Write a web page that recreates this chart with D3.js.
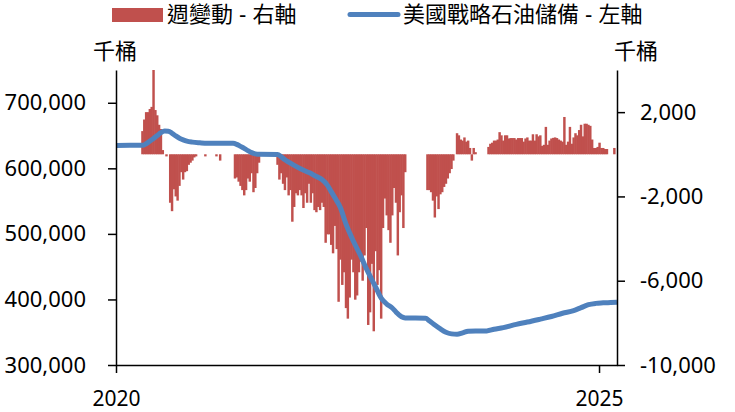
<!DOCTYPE html>
<html>
<head>
<meta charset="utf-8">
<script src="https://cdn.jsdelivr.net/npm/d3@7"></script>
<style>
  html, body { margin: 0; padding: 0; background: #fff; }
  svg { display: block; font-family: "Noto Sans", "Noto Sans CJK TC", sans-serif; }
</style>
</head>
<body>
<svg id="chart" width="735" height="412"></svg>
<script>
// Weekly change in the Strategic Petroleum Reserve (thousand barrels), one value per week
const weekStart = "2020-01-03";
const weeklyChange = [
  // 2020
  0, 0, 0, 0, 0, 0, 0, 0, 0, 0, 0, 0, 0, 0,
  1100, 1650, 2000, 2000, 2150, 2250, 4000, 2100, 1850, 1400, 1200, 200,
  0, -100, 0,
  -2300, -2700, -1660, -2000, -2200, -1500, -850, -1200, -850, -800, -500, -400, -300, -150, -100,
  0, 0, 0, 0, -100, 0, 0, 0, 0, 0, -100, 0, -300, 0, 0, 0, 0, 0, 0, 0,
  // 2021
  -1150, -1100, -1300, -1500, -1700, -1950, -1700, -1150, -1300, -900, -1800, -1600, -900, -400,
  0, 0, 0, 0, 0, 0, 0, 0, 0,
  -500, -1200, -900, -1400, -1700, -1100, -1950, -1700, -3200, -2500, -1850, -1950, -1700, -1950,
  -2550, -1850, -2300, -1400,
  // 2022
  -2300, -1850, -2650, -2750, -2500, -2650, -2300, -2500, -4200, -3800,
  -3800, -4300, -4700, -3400, -4500, -7000, -5000, -6200, -5600, -7300,
  -7800, -6800, -5000, -5600, -6900, -6700, -5600, -5100, -6000, -4800,
  -3500, -8100, -7500, -5200, -8400, -4600, -6200, -5500, -7800, -3500,
  -2100, -2900, -3600, -4200, -2900, -1600, -2300, -4800, -2750, -1950, -3500, -850,
  // 2023
  0, 0, 0, 0, 0, 0, 0, 0, 0, 0, 0,
  -1700, -1700, -1800, -2200, -3000, -2000, -2600, -1900, -1800, -1550, -1400, -1150, -900, -700, -300,
  0,
  1000, 900, 700, 650, 800, 600, 650, 300, -300, 300, 100,
  0, 0, 0, 0, 0, 0,
  350, 500, 550, 650,
  // 2024 - 2025
  650, 700, 1050, 900, 650, 900, 900, 750, 770, 770,
  770, 700, 770, 770, 770, 600, 750, 800, 650, 650,
  950, 650, 950, 850, 900, 400, 450, 1300, 450, 650,
  750, 780, 800, 770, 700, 650, 600, 1770, 450, 600,
  1300, 500, 800, 1000, 900, 1150, 1400, 850, 1450, 1450,
  1400, 1350, 700, 300, 300, 350, 550, 300, 300, 250, 250,
  0, 0, 0, 300
];

// Reserve level (thousand barrels)
const lineDates = [
  "2020-01-03", "2020-04-10", "2020-04-24", "2020-05-08", "2020-05-22", "2020-06-05", "2020-06-19",
  "2020-07-03", "2020-07-17", "2020-07-31", "2020-08-14", "2020-08-28", "2020-09-11", "2020-09-25",
  "2020-10-16", "2020-11-13", "2020-12-11", "2021-03-19", "2021-04-02", "2021-04-16", "2021-04-30",
  "2021-05-14", "2021-05-28", "2021-06-11", "2021-06-25", "2021-09-03", "2021-09-17", "2021-10-01",
  "2021-10-15", "2021-11-05", "2021-12-03", "2021-12-31", "2022-01-28", "2022-02-18", "2022-03-11",
  "2022-03-25", "2022-04-08", "2022-04-29", "2022-05-20", "2022-06-10", "2022-06-24", "2022-07-15",
  "2022-08-05", "2022-08-26", "2022-09-09", "2022-09-30", "2022-10-21", "2022-11-11", "2022-11-25",
  "2022-12-16", "2022-12-30", "2023-03-17", "2023-03-31", "2023-04-21", "2023-05-12", "2023-06-02",
  "2023-06-23", "2023-07-14", "2023-08-04", "2023-08-25", "2023-09-22", "2023-11-03", "2023-12-01",
  "2024-01-05", "2024-02-23", "2024-04-05", "2024-05-24", "2024-07-05", "2024-08-16", "2024-09-27",
  "2024-10-25", "2024-11-22", "2024-12-20", "2025-01-17", "2025-02-14", "2025-03-10"
];
const lineLevels = [
  635000, 635100, 637500, 641500, 645500, 650000, 654500,
  656800, 656600, 653500, 649500, 646000, 643500, 641500,
  640000, 639000, 638300, 638100, 636500, 633500, 630500,
  627000, 624000, 622000, 621300, 621200, 617500, 613000,
  609500, 604500, 598500, 593500, 587500, 583000, 574000,
  564500, 555000, 540000, 515000, 495000, 483000, 466000,
  447000, 430000, 419000, 402000, 393000, 387000, 381000,
  373500, 371800, 371300, 367500, 361000, 355000, 350000,
  347500, 346800, 349000, 351500, 352000, 352000, 354500,
  357000, 362000, 365500, 370000, 374000, 379000, 383000,
  387500, 392000, 394000, 394800, 395500, 395900
];

const leftTicks = [300000, 400000, 500000, 600000, 700000];
const rightTicks = [-10000, -6000, -2000, 2000];
const yearTicks = ["2020-01-01", "2025-01-01"];
const xDomain = ["2020-01-01", "2025-03-10"];
const leftDomain = [300000, 750000];
const rightDomain = [-10000, 4000];
const unitLabel = "千桶";
const legendLabels = ["週變動 - 右軸", "美國戰略石油儲備 - 左軸"];

const barColor = "#C0504D";
const lineColor = "#4F81BD";

const parse = d3.utcParse("%Y-%m-%d");
const svg = d3.select("#chart");

const plot = { left: 116, right: 617, top: 70, bottom: 365 };

const x = d3.scaleUtc().domain(xDomain.map(parse)).range([plot.left, plot.right]);
const yL = d3.scaleLinear().domain(leftDomain).range([plot.bottom, plot.top]);
const yR = d3.scaleLinear().domain(rightDomain).range([plot.bottom, plot.top]);

const locale = d3.formatLocale({ decimal: ".", thousands: ",", grouping: [3], currency: ["", ""], minus: "-" });
const fmt = locale.format(",");

// weekly bars, right axis; each bar spans its week, slightly overlapping its neighbour
const start = parse(weekStart);
const bars = weeklyChange.map((v, i) => ({ date: d3.utcDay.offset(start, 7 * i), value: v }))
  .filter(d => d.value !== 0);
const weekWidth = d => x(d3.utcDay.offset(d.date, 7)) - x(d.date);

svg.append("g")
  .selectAll("rect")
  .data(bars)
  .join("rect")
  .attr("x", d => x(d.date) - weekWidth(d) / 2 - 0.3)
  .attr("width", d => weekWidth(d) + 0.6)
  .attr("y", d => Math.min(yR(d.value), yR(0)))
  .attr("height", d => Math.abs(yR(d.value) - yR(0)))
  .attr("fill", barColor);

// reserve level line, left axis
const levels = lineDates.map((d, i) => ({ date: parse(d), value: lineLevels[i] }));
svg.append("path")
  .datum(levels)
  .attr("fill", "none")
  .attr("stroke", lineColor)
  .attr("stroke-width", 5)
  .attr("stroke-linejoin", "round")
  .attr("d", d3.line().x(d => x(d.date)).y(d => yL(d.value)).curve(d3.curveMonotoneX));

// axes
function styleAxis(g, size) {
  g.selectAll(".domain").attr("stroke", "#000").attr("stroke-width", 1.5);
  g.selectAll(".tick line").attr("stroke", "#000").attr("stroke-width", 1.5);
  g.selectAll(".tick text").attr("fill", "#000").style("font-size", size + "px")
    .style("font-family", '"Noto Sans", "Noto Sans CJK TC", sans-serif');
}

svg.append("g")
  .attr("transform", `translate(${plot.left},0)`)
  .call(d3.axisLeft(yL).tickValues(leftTicks).tickSize(8).tickPadding(22).tickSizeOuter(0).tickFormat(fmt))
  .call(styleAxis, 22);

svg.append("g")
  .attr("transform", `translate(${plot.right},0)`)
  .call(d3.axisRight(yR).tickValues(rightTicks).tickSize(8).tickPadding(15).tickSizeOuter(0).tickFormat(fmt))
  .call(styleAxis, 22);

svg.append("g")
  .attr("transform", `translate(0,${plot.bottom})`)
  .call(d3.axisBottom(x).tickValues(yearTicks.map(parse)).tickSize(8).tickPadding(18).tickSizeOuter(0)
    .tickFormat(d3.utcFormat("%Y")))
  .call(styleAxis, 21);

// unit labels
const textStyle = sel => sel.attr("fill", "#000").style("font-size", "22px");
svg.append("text").attr("x", 93).attr("y", 59).text(unitLabel).call(textStyle);
svg.append("text").attr("x", 614).attr("y", 59).text(unitLabel).call(textStyle);

// legend
const legendFont = '"Liberation Sans", "Noto Sans CJK TC", sans-serif';
const legend = svg.append("g");
legend.append("rect").attr("x", 112).attr("y", 8).attr("width", 51).attr("height", 14).attr("fill", barColor);
legend.append("text").attr("x", 167).attr("y", 21.5).text(legendLabels[0])
  .call(textStyle).style("font-family", legendFont);
legend.append("line").attr("x1", 350).attr("x2", 398).attr("y1", 14.5).attr("y2", 14.5)
  .attr("stroke", lineColor).attr("stroke-width", 5).attr("stroke-linecap", "round");
legend.append("text").attr("x", 403).attr("y", 21.5).text(legendLabels[1])
  .call(textStyle).style("font-family", legendFont);
</script>
</body>
</html>
